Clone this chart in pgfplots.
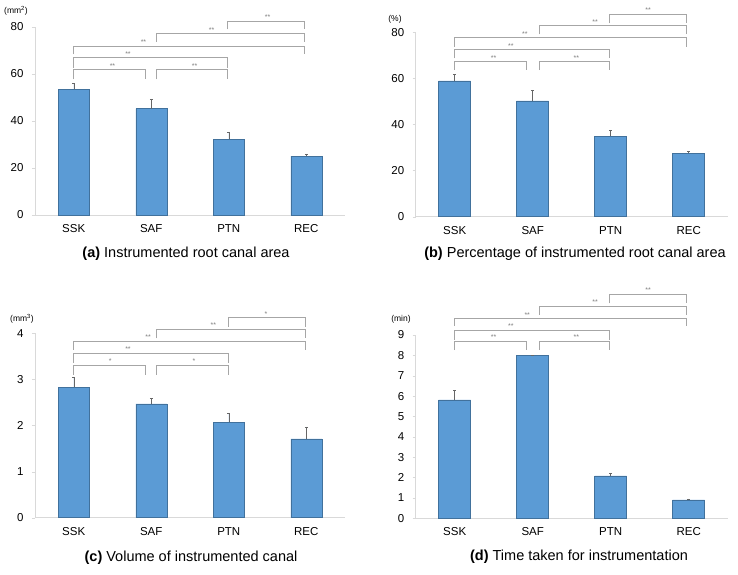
\documentclass[border=0pt]{standalone}
\usepackage{pgfplots}
\pgfplotsset{compat=1.18}
\usepackage{fontspec}
\setmainfont{Liberation Sans}
\definecolor{barblue}{HTML}{5B9BD5}
\definecolor{baredge}{HTML}{41719C}
\definecolor{axgray}{HTML}{D9D9D9}
\definecolor{brgray}{HTML}{A6A6A6}
\definecolor{stgray}{HTML}{7F7F7F}
\newcommand{\br}[6]{%
  \draw[brgray, line width=0.6pt] (axis cs:#1,#3) -- (axis cs:#1,#4) -- (axis cs:#2,#4) -- (axis cs:#2,#3);
  \node[stgray, font=\fontsize{7}{7}\selectfont, anchor=south, inner sep=1pt] at (axis cs:#6,#4) {#5};}
\pgfplotsset{
  panel/.style={
    scale only axis, clip=false,
    xmin=-0.5, xmax=3.5,
    xtick={0,1,2,3},
    xticklabels={SSK,SAF,PTN,REC},
    major x tick style={draw=none},
    extra x ticks={-0.5,0.5,1.5,2.5,3.5},
    extra x tick labels={},
    extra x tick style={major tick length=4pt, tick style={axgray, draw=axgray}},
    axis x line*=bottom, axis y line*=left,
    axis line style={axgray, line width=0.6pt},
    y axis line style={axgray},
    ytick style={axgray},
    tick align=outside,
    major tick length=3pt,
    tick label style={font=\fontsize{11.5}{11.5}\selectfont, text=black},
    yticklabel style={xshift=-5pt},
    xticklabel style={yshift=-3pt},
    /pgf/number format/assume math mode=true,
    ymajorgrids=false,
    ybar, bar width=31pt,
  },
  bars/.style={
    fill=barblue, draw=baredge, line width=0.5pt,
    error bars/.cd, y dir=plus, y explicit,
    error bar style={draw=black!60, line width=0.5pt},
    error mark options={draw=black!60, mark size=1.5pt, rotate=90},
  }
}
\begin{document}
\begin{tikzpicture}[x=1pt,y=1pt]
\path[use as bounding box] (0,0) rectangle (738,574);
% (a)
\begin{axis}[panel, at={(35pt,359pt)}, anchor=south west,
  width=310pt, height=188pt, ymin=0, ymax=80, ytick={0,20,40,60,80}]
\addplot[bars] coordinates {(0,53.5) +- (0,2.5) (1,45.3) +- (0,4.1) (2,32.2) +- (0,3.0) (3,25.1) +- (0,0.9)};
\br{0}{0.92}{57.7}{61.8}{**}{0.5}
\br{1.07}{1.98}{57.7}{61.8}{**}{1.56}
\br{0}{1.98}{62.5}{66.9}{**}{0.7}
\br{0}{2.97}{68.4}{72.0}{**}{0.9}
\br{1.07}{2.97}{73.7}{77.3}{**}{1.78}
\br{1.98}{2.97}{79.0}{82.6}{**}{2.5}
\end{axis}
\node[font=\fontsize{8.5}{8.5}\selectfont] at (16,563) {(mm\textsuperscript{2})};
\node[font=\fontsize{14.5}{14.5}\selectfont] at (186,320) {\textbf{(a)} Instrumented root canal area};
% (b)
\begin{axis}[panel, at={(415.7pt,357.3pt)}, anchor=south west,
  width=312pt, height=184.4pt, ymin=0, ymax=80, ytick={0,20,40,60,80}, bar width=32pt]
\addplot[bars] coordinates {(0,58.9) +- (0,3.0) (1,50.2) +- (0,4.5) (2,35.0) +- (0,2.6) (3,27.5) +- (0,1.1)};
\br{0}{0.92}{63.6}{67.4}{**}{0.5}
\br{1.08}{1.98}{63.6}{67.4}{**}{1.56}
\br{0}{1.98}{68.7}{72.6}{**}{0.72}
\br{0}{2.97}{73.8}{77.8}{**}{0.9}
\br{1.08}{2.97}{79.1}{83.0}{**}{1.8}
\br{1.98}{2.97}{83.9}{87.9}{**}{2.48}
\end{axis}
\node[font=\fontsize{8.5}{8.5}\selectfont] at (395,555) {(\%)};
\node[font=\fontsize{14.5}{14.5}\selectfont] at (575,320) {\textbf{(b)} Percentage of instrumented root canal area};
% (c)
\begin{axis}[panel, at={(35pt,56.3pt)}, anchor=south west,
  width=310pt, height=184.4pt, ymin=0, ymax=4, ytick={0,1,2,3,4}]
\addplot[bars] coordinates {(0,2.83) +- (0,0.22) (1,2.47) +- (0,0.12) (2,2.07) +- (0,0.19) (3,1.71) +- (0,0.26)};
\br{0}{0.92}{3.10}{3.31}{*}{0.47}
\br{1.07}{1.99}{3.10}{3.31}{*}{1.55}
\br{0}{1.99}{3.36}{3.57}{**}{0.7}
\br{0}{2.99}{3.64}{3.83}{**}{0.96}
\br{1.07}{2.99}{3.89}{4.09}{**}{1.8}
\br{1.99}{2.99}{4.14}{4.34}{*}{2.48}
\end{axis}
\node[font=\fontsize{8.5}{8.5}\selectfont] at (22,255) {(mm\textsuperscript{3})};
\node[font=\fontsize{14.5}{14.5}\selectfont] at (191,16) {\textbf{(c)} Volume of instrumented canal};
% (d)
\begin{axis}[panel, at={(415.7pt,55.7pt)}, anchor=south west,
  width=312pt, height=183.3pt, ymin=0, ymax=9, ytick={0,1,2,3,4,5,6,7,8,9}, bar width=32pt]
\addplot[bars] coordinates {(0,5.81) +- (0,0.46) (1,8.0) +- (0,0.0) (2,2.08) +- (0,0.13) (3,0.90) +- (0,0.05)};
\br{0}{0.92}{8.26}{8.71}{**}{0.5}
\br{1.08}{1.98}{8.26}{8.71}{**}{1.56}
\br{0}{1.98}{8.75}{9.25}{**}{0.72}
\br{0}{2.97}{9.44}{9.82}{**}{0.93}
\br{1.08}{2.97}{9.98}{10.42}{**}{1.8}
\br{1.98}{2.97}{10.55}{11.01}{**}{2.48}
\end{axis}
\node[font=\fontsize{8.5}{8.5}\selectfont] at (401,255) {(min)};
\node[font=\fontsize{14.5}{14.5}\selectfont] at (579,17) {\textbf{(d)} Time taken for instrumentation};
\end{tikzpicture}
\end{document}
